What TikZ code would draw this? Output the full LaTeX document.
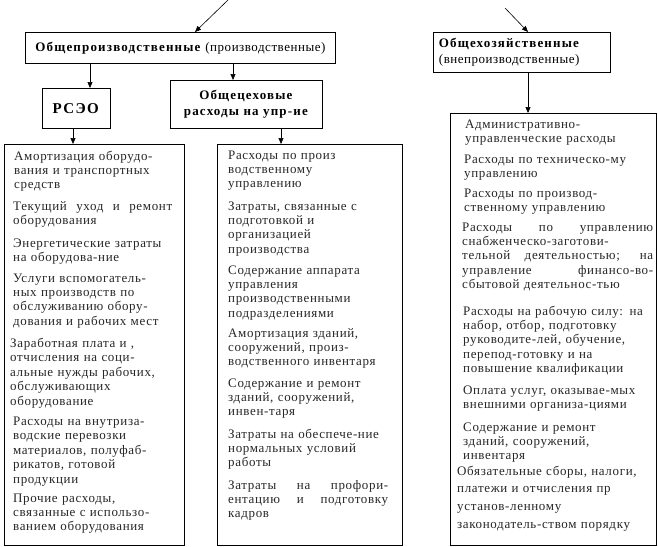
\documentclass[tikz,border=0pt]{standalone}
\usepackage{fontspec}
\setmainfont{Liberation Serif}
\newfontfamily\bodyfont[LetterSpace=5]{Liberation Serif}
\newfontfamily\headfont[LetterSpace=4,BoldFeatures={LetterSpace=9}]{Liberation Serif}
\usetikzlibrary{arrows.meta}
\newcommand\jl[2]{{\spaceskip=0.25em plus 1fil\relax\makebox[#1][s]{#2}}}
\begin{document}
\begin{tikzpicture}[x=1pt,y=-1pt,
  box/.style={draw,line width=0.9pt,inner sep=0pt,anchor=north west},
  head/.style={font=\headfont\fontsize{13}{16}\selectfont,align=center},
  item/.style={anchor=base west,inner sep=0pt,align=left,text width=#1,
     font=\bodyfont\fontsize{13}{14.4}\selectfont,text=black!85},
  item/.default=200,
  arr/.style={line width=0.6pt,-{Triangle[length=6pt,width=5pt]}}]
\useasboundingbox (0,0) rectangle (658,546);
% boxes
\node[box,minimum width=310,minimum height=31,head] (top) at (25,32)
  {\textbf{Общепроизводственные} (производственные)};
\node[box,minimum width=68,minimum height=40,head,font=\headfont\fontsize{15}{18}\selectfont] (rseo) at (42,88)
  {\textbf{РСЭО}};
\node[box,minimum width=152,minimum height=48,head] (ceh) at (170,80)
  {\textbf{Общецеховые}\\\textbf{расходы на упр-ие}};
\node[box,minimum width=177,minimum height=40,head,align=left,text width=170] (hoz) at (433,32)
  {\hspace*{2pt}\textbf{Общехозяйственные}\\\hspace*{2pt}(внепроизводственные)};
\node[box,minimum width=180,minimum height=401] (L) at (4,144) {};
\node[box,minimum width=185,minimum height=401] (M) at (217,144) {};
\node[box,minimum width=206,minimum height=432] (R) at (450,113) {};
% connector coordinates
\coordinate (in1) at (228,0);
\coordinate (in2) at (505,8);
\coordinate (xa) at (195,0);
\coordinate (xb) at (528,0);
\coordinate (x1) at (90,0);
\coordinate (x2) at (233,0);
\coordinate (x3) at (73,0);
\coordinate (x4) at (281,0);
% connectors
\draw[arr] (in1) -- (top.north -| xa);
\draw[arr] (in2) -- (hoz.north -| xb);
\draw[arr] (top.south -| x1) -- (rseo.north -| x1);
\draw[arr] (top.south -| x2) -- (ceh.north -| x2);
\draw[arr] (rseo.south -| x3) -- (L.north -| x3);
\draw[arr] (ceh.south -| x4) -- (M.north -| x4);
\draw[arr] (hoz.south -| xb) -- (R.north -| xb);
% left items
\node[item] (l1) at (14,160) {Амортизация оборудо-\\вания и транспортных\\средств};
\node[item] (l2) at (13,210) {\jl{159pt}{Текущий уход и ремонт}\\оборудования};
\node[item] (l3) at (13,247.5) {Энергетические затраты\\на оборудова-ние};
\node[item] (l4) at (13,282) {Услуги вспомогатель-\\ных производств по\\обслуживанию обору-\\дования и рабочих мест};
\node[item] (l5) at (10,347.5) {Заработная плата и ,\\отчисления на соци-\\альные нужды рабочих,\\обслуживающих\\оборудование};
\node[item] (l6) at (13,425.5) {Расходы на внутриза-\\водские перевозки\\материалов, полуфаб-\\рикатов, готовой\\продукции};
\node[item] (l7) at (13,502) {Прочие расходы,\\связанные с использо-\\ванием оборудования};
% middle items
\node[item] (m1) at (228,159) {Расходы по произ\\водственному\\управлению};
\node[item] (m2) at (228,210) {Затраты, связанные с\\подготовкой и\\организацией\\производства};
\node[item] (m3) at (228,274) {Содержание аппарата\\управления\\производственными\\подразделениями};
\node[item] (m4) at (228,337) {Амортизация зданий,\\сооружений, произ-\\водственного инвентаря};
\node[item] (m5) at (228,387) {Содержание и ремонт\\зданий, сооружений,\\инвен-таря};
\node[item] (m6) at (228,438) {Затраты на обеспече-ние\\нормальных условий\\работы};
\node[item] (m7) at (228,489) {\jl{160pt}{Затраты на профори-}\\\jl{160pt}{ентацию и подготовку}\\кадров};
% right items
\node[item=230] (r1) at (465,128) {Административно-\\управленческие расходы};
\node[item=230] (r2) at (464,163) {Расходы по техническо-му\\управлению};
\node[item=230] (r3) at (464,197) {Расходы по производ-\\ственному управлению};
\node[item=230] (r4) at (462,231) {\jl{191pt}{Расходы по управлению}\\снабженческо-заготови-\\\jl{191pt}{тельной деятельностью; на}\\\jl{191pt}{управление финансо-во-}\\сбытовой деятельнос-тью};
\node[item=230] (r5) at (463,315) {Расходы на рабочую силу: на\\набор, отбор, подготовку\\руководите-лей, обучение,\\перепод-готовку и на\\повышение квалификации};
\node[item=230] (r6) at (463,394) {Оплата услуг, оказывае-мых\\внешними организа-циями};
\node[item=230] (r7) at (463,431) {Содержание и ремонт\\зданий, сооружений,\\инвентаря};
\node[item=230,font=\bodyfont\fontsize{13}{17.7}\selectfont] (r8) at (457,475) {Обязательные сборы, налоги,\\платежи и отчисления пр\\установ-ленному\\законодатель-ством порядку};
\end{tikzpicture}
\end{document}
